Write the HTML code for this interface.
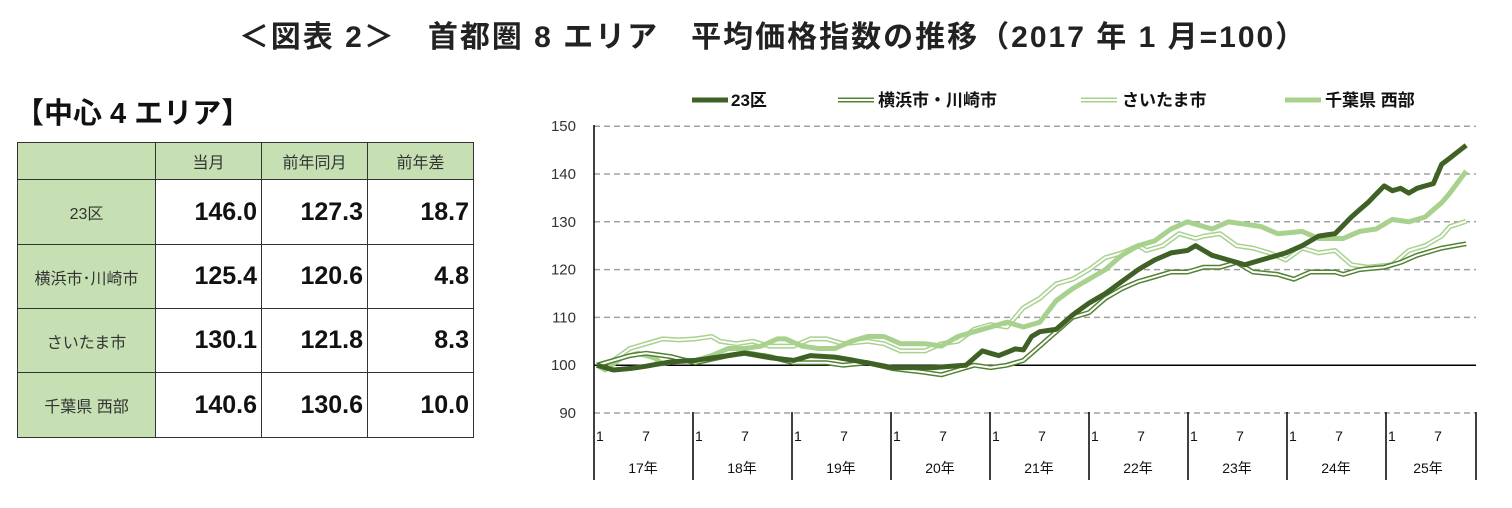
<!DOCTYPE html>
<html><head><meta charset="utf-8"><style>
body{margin:0;width:1512px;height:508px;background:#fff;font-family:"Liberation Sans","Noto Sans CJK JP",sans-serif;position:relative;overflow:hidden}
.t{position:absolute;white-space:nowrap}
table{position:absolute;left:17px;top:142px;border-collapse:collapse;}
td{border:1px solid #333;padding:0;}
.g{background:#c6e0b4;text-align:center;font-size:16px;color:#333}
.n{text-align:right;font-size:25px;font-weight:bold;padding-right:4px;color:#111}
</style></head><body>
<div class="t" style="left:0;width:1546px;text-align:center;top:12px;font-size:30px;font-weight:bold;color:#222;letter-spacing:2px">＜図表 2＞　首都圏 8 エリア　平均価格指数の推移（2017 年 1 月=100）</div>
<div class="t" style="left:15px;top:90px;font-size:29px;font-weight:bold;color:#111">【中心 4 エリア】</div>
<table>
<tr style="height:37px"><td class="g" style="width:137px"></td><td class="g" style="width:105px">当月</td><td class="g" style="width:105px">前年同月</td><td class="g" style="width:105px">前年差</td></tr>
<tr style="height:65px"><td class="g">23区</td><td class="n">146.0</td><td class="n">127.3</td><td class="n">18.7</td></tr>
<tr style="height:64px"><td class="g">横浜市･川崎市</td><td class="n">125.4</td><td class="n">120.6</td><td class="n">4.8</td></tr>
<tr style="height:64px"><td class="g">さいたま市</td><td class="n">130.1</td><td class="n">121.8</td><td class="n">8.3</td></tr>
<tr style="height:65px"><td class="g">千葉県 西部</td><td class="n">140.6</td><td class="n">130.6</td><td class="n">10.0</td></tr>
</table>
<svg id="c" style="position:absolute;left:0;top:0" width="1512" height="508"></svg>
<script>
const s=document.getElementById('c');let h='';
const Y=v=>365.2-(v-100)*4.78, X=m=>597+m*8.2;
for(let v=90;v<=150;v+=10){const y=Y(v);
 if(v!=100)h+=`<line x1="594" x2="1476" y1="${y}" y2="${y}" stroke="#a0a0a0" stroke-width="1.5" stroke-dasharray="6,4"/>`;
 h+=`<text x="576" y="${y+5}" text-anchor="end" font-size="15" fill="#333">${v}</text>`;}
h+=`<line x1="594" x2="1476" y1="${Y(100)}" y2="${Y(100)}" stroke="#000" stroke-width="1.5"/>`;
h+=`<line x1="594" x2="594" y1="125" y2="480" stroke="#000" stroke-width="1.5"/>`;
const yrs=['17','18','19','20','21','22','23','24','25'];
for(let i=0;i<9;i++){const x=594+i*99;
 if(i>0)h+=`<line x1="${x}" x2="${x}" y1="412" y2="480" stroke="#000" stroke-width="1.5"/>`;
 h+=`<text x="${x+2}" y="441" font-size="14" fill="#111">1</text><text x="${x+52}" y="441" font-size="14" fill="#111" text-anchor="middle">7</text>`;
 h+=`<text x="${x+(i==8?42:49)}" y="473" font-size="14" fill="#111" text-anchor="middle">${yrs[i]}年</text>`;}
h+=`<line x1="1476" x2="1476" y1="412" y2="480" stroke="#000" stroke-width="1.5"/>`;
function pts(k){let p=[];for(let i=0;i<k.length-1;i++){const[a,b]=k[i],[c,d]=k[i+1];for(let m=a;m<c;m++)p.push(X(m)+','+Y(b+(d-b)*(m-a)/(c-a)).toFixed(1));}const l=k[k.length-1];p.push(X(l[0])+','+Y(l[1]).toFixed(1));return p.join(' ');}
const D=[[0,100],[2,99],[4,99.3],[6,99.8],[9,100.7],[12,101],[18,102.5],[21,101.6],[24,101],[26,102],[29,101.7],[33,100.5],[36,99.5],[41,99.5],[45,100],[47,103],[49,102],[51,103.4],[52,103.2],[53,106],[54,107],[56,107.5],[58,110.5],[60,113],[62,115],[64,117.5],[66,120],[68,122],[70,123.5],[72,124],[73,125],[75,123],[77,122],[79,121],[81,122],[84,123.5],[86,125],[88,127],[90,127.5],[92,131],[94,134],[96,137.5],[97,136.5],[98,137],[99,136],[100,137],[102,138],[103,142],[106,146]];
const K=[[0,100],[2,101],[4,102],[6,102.5],[9,101.8],[12,100.5],[16,102],[18,102.6],[21,101.8],[24,100.5],[28,100.5],[30,100],[33,100.5],[36,99.3],[40,98.5],[42,98],[44,99],[46,100],[48,99.5],[50,100],[52,101],[54,104],[56,107],[58,110],[60,111],[62,114],[64,116],[66,117.5],[68,118.5],[70,119.5],[72,119.5],[74,120.5],[76,120.5],[78,121.5],[80,119.5],[83,119],[85,118],[87,119.5],[90,119.5],[91,119],[93,120],[96,120.5],[98,121.5],[100,123],[103,124.5],[106,125.4]];
const S=[[0,100],[2,101],[4,103.5],[6,104.5],[8,105.5],[10,105.3],[12,105.5],[14,106],[15,105],[17,104.5],[19,105],[21,104],[24,104],[26,105.5],[28,105.5],[30,104.5],[33,105],[35,104.5],[37,103],[40,103],[42,104.5],[44,105],[46,107.5],[48,108.5],[50,108],[52,112],[54,114],[56,117],[58,118],[60,120],[62,122.5],[64,123.5],[66,125],[67,124],[69,125],[71,127.5],[73,126.5],[74,127],[76,127.5],[78,125],[80,124.5],[82,123.5],[84,122],[86,124.5],[88,123.5],[90,124],[92,121],[94,120.5],[97,121],[99,124],[101,125],[103,127],[104,129],[106,130.1]];
const C=[[0,100],[1,99],[3,101.5],[5,102.5],[7,101.5],[8,100.3],[10,101],[12,101],[14,102],[16,103.5],[18,103.5],[20,104],[22,105.5],[23,105.5],[25,104],[27,103.5],[29,103.5],[31,105],[33,106],[35,106],[37,104.5],[40,104.5],[42,104],[44,106],[46,107],[48,108],[50,109],[52,108],[54,109],[56,113.5],[58,116],[60,118],[62,120],[64,123],[66,125],[68,126],[70,128.5],[72,130],[75,128.5],[77,130],[79,129.5],[81,129],[83,127.5],[86,128],[88,126.5],[91,126.5],[93,128],[95,128.5],[97,130.5],[99,130],[101,131],[103,134],[104,136],[106,140.6]];
const pl=(k,c,w)=>`<polyline points="${pts(k)}" fill="none" stroke="${c}" stroke-width="${w}" stroke-linejoin="round"/>`;
h+=pl(S,'#a9d18e',5)+pl(S,'#fff',2);
h+=pl(C,'#a9d18e',5);
h+=pl(K,'#548235',5)+pl(K,'#fff',2);
h+=pl(D,'#3f6125',5);
h+=`<line x1="692" x2="728" y1="100" y2="100" stroke="#3f6125" stroke-width="5"/><text x="731" y="106" font-size="17" font-weight="bold" fill="#111">23区</text>`;
h+=`<line x1="838" x2="874" y1="100" y2="100" stroke="#548235" stroke-width="5"/><line x1="838" x2="874" y1="100" y2="100" stroke="#fff" stroke-width="2"/><text x="878" y="106" font-size="17" font-weight="bold" fill="#111">横浜市・川崎市</text>`;
h+=`<line x1="1081" x2="1117" y1="100" y2="100" stroke="#a9d18e" stroke-width="5"/><line x1="1081" x2="1117" y1="100" y2="100" stroke="#fff" stroke-width="2"/><text x="1122" y="106" font-size="17" font-weight="bold" fill="#111">さいたま市</text>`;
h+=`<line x1="1285" x2="1321" y1="100" y2="100" stroke="#a9d18e" stroke-width="5"/><text x="1325" y="106" font-size="17" font-weight="bold" fill="#111">千葉県 西部</text>`;
s.innerHTML=h;
</script>
</body></html>
